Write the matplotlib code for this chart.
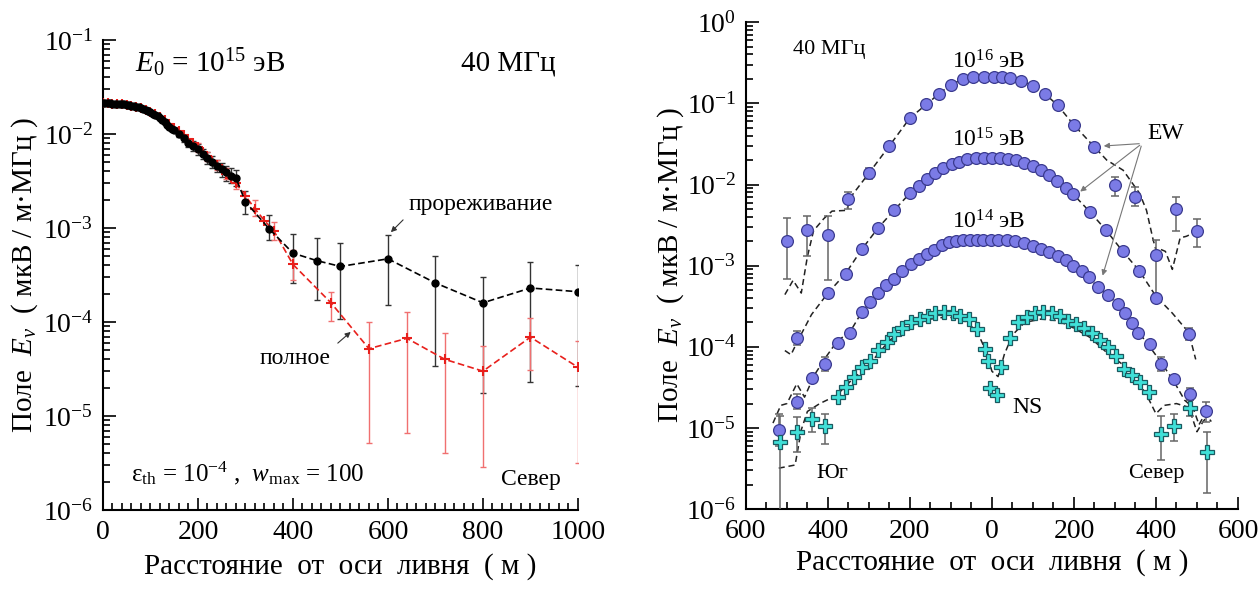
import numpy as np
import matplotlib
matplotlib.use("Agg")
import matplotlib.pyplot as plt
from matplotlib.ticker import MultipleLocator, FuncFormatter, LogLocator, NullFormatter

plt.rcParams['font.family'] = ['Liberation Serif', 'DejaVu Serif']
plt.rcParams['mathtext.fontset'] = 'custom'
plt.rcParams['mathtext.rm'] = 'Liberation Serif'
plt.rcParams['mathtext.it'] = 'Liberation Serif:italic'
plt.rcParams['axes.unicode_minus'] = True

# ---------------- left panel data: E0 = 1e15 eV, north direction
black_x = [0, 5, 10, 15, 20, 25, 30, 35, 40, 45, 50, 55, 60, 65, 70, 75, 80, 85, 90, 95, 100,
           105, 110, 115, 120, 125, 130, 135, 140, 145, 150,
           160, 170, 180, 190, 200, 210, 220, 230, 240, 250, 260, 270, 280,
           300, 350, 400, 450, 500, 600, 700, 800, 900, 1000]
black_y = [0.0212, 0.0212, 0.0212, 0.0212, 0.0211, 0.0211, 0.0210, 0.0209, 0.0208, 0.0207, 0.0205,
           0.0203, 0.0201, 0.0198, 0.0195, 0.0192, 0.0189, 0.0185, 0.0180, 0.0175, 0.0170,
           0.0165, 0.0160, 0.0154, 0.0147, 0.0140, 0.0133, 0.0126, 0.0120, 0.0114, 0.0109,
           0.0100, 0.0090, 0.0081, 0.0075, 0.0069, 0.0062, 0.0056, 0.0050, 0.0046, 0.0042, 0.0039, 0.0036, 0.0034,
           0.0019, 0.00098, 0.00054, 0.00045, 0.00039, 0.00047, 0.00026, 0.00016, 0.00023, 0.00021]
bk_bar_x = [160, 170, 180, 190, 200, 210, 220, 230, 240, 250, 260, 270, 280,
            300, 350, 400, 450, 500, 600, 700, 800, 900, 1000]
bk_bar_lo = [0.0092, 0.0082, 0.0073, 0.0066, 0.0060, 0.0054, 0.0048, 0.0043, 0.0039, 0.0035, 0.0032, 0.0030, 0.0028,
             0.0014, 0.00074, 0.00026, 0.00017, 0.000107, 0.00015, 0.000034, 0.0000175, 0.000023, 0.000021]
bk_bar_hi = [0.0108, 0.0098, 0.0089, 0.0084, 0.0078, 0.0070, 0.0064, 0.0058, 0.0053, 0.0049, 0.0046, 0.0043, 0.0041,
             0.0025, 0.00138, 0.00086, 0.00078, 0.00069, 0.00085, 0.0005, 0.0003, 0.00044, 0.0004]

red_x = [0, 10, 20, 30, 40, 50, 60, 70, 80, 90, 100, 110, 120, 130, 140, 150, 160, 170, 180, 190,
         200, 210, 220, 230, 240, 250, 260, 270, 280,
         300, 320, 340, 360, 400, 480, 560, 640, 720, 800, 900, 1000]
red_y = [0.0212, 0.0212, 0.0211, 0.0210, 0.0208, 0.0205, 0.0201, 0.0196, 0.0190, 0.0182, 0.0172,
         0.0163, 0.0152, 0.0140, 0.0128, 0.0117, 0.0108, 0.0098, 0.0089, 0.0080,
         0.0072, 0.0064, 0.0058, 0.0052, 0.0047, 0.0042, 0.0038, 0.0034, 0.0030,
         0.0022, 0.0016, 0.0012, 0.00093, 0.00041, 0.00016, 0.000052, 0.000067, 0.00004, 0.00003, 0.000069, 0.000033]
rd_bar_x = [200, 220, 240, 260, 280, 320, 360, 400, 480, 560, 640, 720, 800, 900, 1000]
rd_bar_lo = [0.0064, 0.0051, 0.0041, 0.0033, 0.0026, 0.00135, 0.00075, 0.00028, 0.000103,
             0.0000052, 0.0000066, 0.000004, 0.0000029, 0.000031, 0.0000032]
rd_bar_hi = [0.0080, 0.0065, 0.0053, 0.0043, 0.0034, 0.0020, 0.00115, 0.00058, 0.00021,
             0.000099, 0.000127, 0.000077, 0.000056, 0.00011, 0.000063]

# ---------------- right panel data (negative distance = south)
e16_x = [-500, -450, -400, -350, -300, -250, -200, -160, -130, -100, -70, -45, -20, 5, 25, 45, 70,
         100, 130, 160, 200, 250, 300, 350, 400, 450, 500]
e16_y = [2.0e-3, 2.75e-3, 2.4e-3, 6.6e-3, 0.0138, 0.030, 0.066, 0.097, 0.13, 0.17, 0.20, 0.21, 0.21,
         0.21, 0.21, 0.205, 0.19, 0.165, 0.13, 0.095, 0.054, 0.029, 0.0098, 0.0071, 0.00135, 0.005, 0.0027]
e16_bar_x = [-500, -450, -400, -350, -300, 300, 350, 400, 450, 500]
e16_bar_lo = [6.8e-4, 1.3e-3, 6.6e-4, 5e-3, 0.0118, 0.0072, 0.0055, 4.5e-4, 2.7e-3, 1.7e-3]
e16_bar_hi = [3.9e-3, 4.1e-3, 4.1e-3, 8.1e-3, 0.016, 0.0125, 0.0092, 2.1e-3, 7e-3, 3.8e-3]
ew16_x = [-505, -485, -465, -450, -435, -410, -390, -355, -340, -300, -250, -200, -160, -130, -100, -70,
          -40, 0, 40, 70, 100, 130, 160, 200, 250, 280, 320, 360, 377, 393, 401, 410, 423, 440, 459,
          474, 490, 505]
ew16_y = [4.4e-4, 6.6e-4, 4.6e-4, 1.3e-3, 2.7e-3, 3.8e-3, 4.7e-3, 4.8e-3, 7.5e-3, 0.0138, 0.030, 0.066,
          0.097, 0.13, 0.17, 0.20, 0.21, 0.215, 0.21, 0.19, 0.165, 0.13, 0.095, 0.054, 0.029, 0.020,
          0.015, 0.0078, 0.0048, 0.0021, 0.0015, 0.0016, 0.0015, 0.0009, 0.0022, 0.0023, 0.0025, 0.0027]

e15_x = [-475, -400, -357, -317, -278, -239, -200, -178, -159, -139, -120, -98, -80, -60, -40, -20, 0,
         20, 40, 59, 79, 99, 119, 139, 158, 180, 198, 239, 278, 319, 359, 400, 480]
e15_y = [1.28e-4, 4.6e-4, 8.0e-4, 1.6e-3, 2.9e-3, 4.8e-3, 7.8e-3, 9.5e-3, 0.0117, 0.0138, 0.0159,
         0.0178, 0.0190, 0.0204, 0.021, 0.021, 0.021, 0.021, 0.0205, 0.020, 0.0185, 0.017, 0.015,
         0.0131, 0.011, 0.0091, 0.0076, 0.0046, 0.00275, 0.0015, 0.00087, 0.0004, 0.000144]
e15_bar_x = [-475, 480]
e15_bar_lo = [1.05e-4, 1.2e-4]
e15_bar_hi = [1.55e-4, 1.7e-4]
ew15_x = [-505, -490, -475, -440, -400, -357, -317, -278, -239, -200, -159, -120, -80, -40, 0, 40, 79,
          119, 158, 198, 239, 278, 319, 359, 400, 440, 480, 497]
ew15_y = [9e-5, 8e-5, 1.15e-4, 2.5e-4, 4.6e-4, 8e-4, 1.6e-3, 2.9e-3, 4.8e-3, 7.8e-3, 0.0117, 0.0159,
          0.019, 0.021, 0.0215, 0.0205, 0.0185, 0.015, 0.011, 0.0076, 0.0046, 0.00275, 0.0015, 0.00087,
          0.00042, 0.00026, 0.00015, 0.00007]

e14_x = [-520, -476, -440, -408, -376, -347, -317, -298, -278, -258, -239, -219, -198, -178, -159, -141,
         -123, -105, -88, -70, -54, -37, -21, -3, 15, 36, 56, 79, 99, 119, 140, 160, 180, 198, 219, 237,
         258, 283, 307, 325, 341, 356, 385, 412, 443, 482, 521]
e14_y = [9.5e-6, 2.1e-5, 4.1e-5, 6.1e-5, 1.1e-4, 1.5e-4, 2.7e-4, 3.6e-4, 4.6e-4, 5.7e-4, 6.9e-4, 8.7e-4,
         1.05e-3, 1.2e-3, 1.4e-3, 1.58e-3, 1.8e-3, 1.94e-3, 2.0e-3, 2.08e-3, 2.1e-3, 2.1e-3, 2.1e-3,
         2.1e-3, 2.08e-3, 2.05e-3, 2.0e-3, 1.88e-3, 1.75e-3, 1.62e-3, 1.48e-3, 1.32e-3, 1.17e-3, 1.0e-3,
         8.5e-4, 7.3e-4, 5.5e-4, 4.4e-4, 3.4e-4, 2.6e-4, 1.96e-4, 1.48e-4, 1.07e-4, 6.1e-5, 4e-5,
         2.6e-5, 1.6e-5]
e14_bar_x = [-520, -476, -408, 412, 482, 521]
e14_bar_lo = [6e-6, 1.7e-5, 5e-5, 5e-5, 2.2e-5, 1.2e-5]
e14_bar_hi = [1.5e-5, 2.6e-5, 7.5e-5, 7.5e-5, 3.1e-5, 2.1e-5]
ew14_x = [-534, -515, -500, -476, -457, -433, -404, -376, -347, -317, -278, -239, -198, -159, -123, -88,
          -54, -21, 15, 56, 99, 140, 180, 219, 258, 307, 341, 385, 412, 443, 470, 490, 505, 520, 535]
ew14_y = [1.15e-5, 1.9e-5, 2e-5, 3.5e-5, 2.4e-5, 4.5e-5, 7.6e-5, 1.2e-4, 1.5e-4, 2.7e-4, 4.6e-4, 6.9e-4,
          1.05e-3, 1.4e-3, 1.8e-3, 2.0e-3, 2.1e-3, 2.12e-3, 2.1e-3, 2.0e-3, 1.75e-3, 1.48e-3, 1.17e-3,
          8.5e-4, 5.5e-4, 3.4e-4, 1.96e-4, 1.0e-4, 6.5e-5, 3.8e-5, 2.2e-5, 1.8e-5, 1.1e-5, 1.5e-5, 1.2e-5]

ns_x = [-518, -476, -439, -408, -376, -357, -336, -317, -298, -278, -257, -239, -219, -197, -176, -157,
        -138, -118, -96, -77, -57, -36, -18, -9, -4, 12, 22, 44, 63, 85, 104, 124, 146, 167, 185, 204,
        224, 245, 264, 283, 302, 322, 341, 361, 382, 412, 443, 482, 524]
ns_y = [6.8e-6, 9e-6, 1.3e-5, 1.07e-5, 2.4e-5, 3.2e-5, 4.3e-5, 5.6e-5, 6.6e-5, 9.1e-5, 1.16e-4, 1.44e-4,
        1.7e-4, 2.03e-4, 2.2e-4, 2.4e-4, 2.6e-4, 2.7e-4, 2.6e-4, 2.4e-4, 2.2e-4, 1.65e-4, 9.4e-5, 6.6e-5,
        3.1e-5, 2.55e-5, 5.7e-5, 1.3e-4, 2e-4, 2.35e-4, 2.6e-4, 2.7e-4, 2.6e-4, 2.4e-4, 2.1e-4, 1.9e-4,
        1.7e-4, 1.47e-4, 1.2e-4, 1e-4, 7.7e-5, 5.4e-5, 4.5e-5, 3.7e-5, 2.8e-5, 8.5e-6, 1.05e-5, 1.78e-5,
        5.1e-6]
ns_bar_x = [-518, -476, -439, -408, 412, 443, 482, 524]
ns_bar_lo = [1e-7, 5e-6, 9e-6, 6.4e-6, 4e-6, 7e-6, 1.4e-5, 1.6e-6]
ns_bar_hi = [1.4e-5, 1.35e-5, 1.75e-5, 1.5e-5, 1.4e-5, 1.5e-5, 2.2e-5, 8.9e-6]
nsl_x = [-520, -480, -465, -450, -420, -380, -340, -300, -250, -200, -150, -120, -90, -60, -35, -15, 0,
         15, 30, 50, 80, 120, 160, 200, 240, 280, 320, 360, 380, 400, 420, 450, 480, 500, 515, 530]
nsl_y = [3.2e-6, 3.5e-6, 9.5e-6, 1.6e-5, 2e-5, 2.5e-5, 4e-5, 6e-5, 1.2e-4, 1.8e-4, 2.2e-4, 2.3e-4, 2.3e-4,
         2e-4, 1.5e-4, 9e-5, 5e-5, 4.3e-5, 8e-5, 1.4e-4, 2e-4, 2.2e-4, 2.1e-4, 1.7e-4, 1.3e-4, 8.5e-5,
         6e-5, 3.5e-5, 2.4e-5, 1.5e-5, 1.9e-5, 2e-5, 1.8e-5, 9e-6, 1.2e-5, 1.5e-5]


def bars(ax, x, lo, hi, color, lw=1.0, cap=6, z=2):
    ax.vlines(x, lo, hi, colors=color, lw=lw, zorder=z)
    ax.plot(x, lo, ls='none', marker='_', ms=cap, mew=lw, color=color, zorder=z)
    ax.plot(x, hi, ls='none', marker='_', ms=cap, mew=lw, color=color, zorder=z)


def style_axes(ax):
    for s in ['top', 'right']:
        ax.spines[s].set_visible(False)
    for s in ['left', 'bottom']:
        ax.spines[s].set_linewidth(1.5)
    ax.set_yscale('log')
    ax.yaxis.set_major_locator(LogLocator(base=10, numticks=20))
    ax.yaxis.set_minor_locator(LogLocator(base=10, subs=np.arange(2, 10), numticks=20))
    ax.yaxis.set_minor_formatter(NullFormatter())
    ax.tick_params(which='both', direction='in', top=False, right=False, width=1.2)
    ax.tick_params(which='major', length=9, labelsize=20, pad=7)
    ax.tick_params(which='minor', length=5)


fig = plt.figure(figsize=(12.6, 5.9), dpi=100)
ax1 = fig.add_axes([0.0817, 0.1356, 0.377, 0.7966])
ax2 = fig.add_axes([0.592, 0.137, 0.3905, 0.8254])

# ---------------- left panel
style_axes(ax1)
bars(ax1, bk_bar_x, bk_bar_lo, bk_bar_hi, '#333333', lw=1.0, cap=5)
bars(ax1, rd_bar_x, rd_bar_lo, rd_bar_hi, '#f07070', lw=1.0, cap=5)
ax1.plot(red_x, red_y, ls=(0, (4, 2)), color='#e8201c', lw=1.2, marker='+', ms=7, mew=1.5, zorder=3)
ax1.plot(black_x, black_y, ls=(0, (4, 2)), color='black', lw=1.2, marker='o', ms=5, zorder=4)
ax1.set_xlim(0, 1000)
ax1.set_ylim(1e-6, 1e-1)
ax1.xaxis.set_major_locator(MultipleLocator(200))
ax1.xaxis.set_minor_locator(MultipleLocator(20))
ax1.set_xlabel('Расстояние  от  оси  ливня  ( м )', fontsize=21, labelpad=6)
ax1.set_ylabel('Поле  $E_\\nu$  ( мкВ / м·МГц )', fontsize=21, labelpad=2)

ax1.text(0.067, 0.951, '$E_0$ = 10$^{15}$ эВ', transform=ax1.transAxes, fontsize=21, va='center')
ax1.text(0.954, 0.951, '40 МГц', transform=ax1.transAxes, fontsize=21, va='center', ha='right')
ax1.text(0.644, 0.649, 'прореживание', transform=ax1.transAxes, fontsize=17, va='center')
ax1.text(0.404, 0.323, 'полное', transform=ax1.transAxes, fontsize=17, va='center', ha='center')
ax1.text(0.059, 0.079, 'ε$_{\\rm th}$ = 10$^{-4}$ ,  $w_{\\rm max}$ = 100', transform=ax1.transAxes,
         fontsize=18, va='center')
ax1.text(0.964, 0.064, 'Север', transform=ax1.transAxes, fontsize=17, va='center', ha='right')
arrow = dict(arrowstyle='-|>', color='#333333', lw=0.8, mutation_scale=8)
ax1.annotate('', xy=(602, 8.6e-4), xytext=(636, 1.28e-3), arrowprops=arrow)
ax1.annotate('', xy=(526, 8.2e-5), xytext=(490, 5.7e-5), arrowprops=arrow)

# ---------------- right panel
style_axes(ax2)
ax2.set_xlim(-600, 600)
ax2.set_ylim(1e-6, 1e0)
ax2.xaxis.set_major_locator(MultipleLocator(200))
ax2.xaxis.set_minor_locator(MultipleLocator(50))
ax2.xaxis.set_major_formatter(FuncFormatter(lambda v, p: f'{abs(v):.0f}'))
ax2.set_xlabel('Расстояние  от  оси  ливня  ( м )', fontsize=21, labelpad=4)
ax2.set_ylabel('Поле  $E_\\nu$  ( мкВ / м·МГц )', fontsize=21, labelpad=0)

dash = (0, (4, 2.5))
for lx, ly in [(ew16_x, ew16_y), (ew15_x, ew15_y), (ew14_x, ew14_y), (nsl_x, nsl_y)]:
    ax2.plot(lx, ly, ls=dash, color='#222222', lw=1.1, zorder=2)

grey = '#666666'
bars(ax2, e16_bar_x, e16_bar_lo, e16_bar_hi, grey, lw=1.1, cap=6, z=3)
bars(ax2, e15_bar_x, e15_bar_lo, e15_bar_hi, grey, lw=1.1, cap=6, z=3)
bars(ax2, e14_bar_x, e14_bar_lo, e14_bar_hi, grey, lw=1.1, cap=6, z=3)
bars(ax2, ns_bar_x, ns_bar_lo, ns_bar_hi, grey, lw=1.1, cap=6, z=3)

circ = dict(ls='none', marker='o', ms=8.5, mfc='#7b7be6', mec='#3b3b8f', mew=0.9, zorder=4)
ax2.plot(e16_x, e16_y, **circ)
ax2.plot(e15_x, e15_y, **circ)
ax2.plot(e14_x, e14_y, **circ)
ax2.plot(ns_x, ns_y, ls='none', marker='P', ms=10, mfc='#40e0d8', mec='#1b5a60', mew=0.9, zorder=5)

ax2.text(0.096, 0.943, '40 МГц', transform=ax2.transAxes, fontsize=16, va='center')
ax2.text(0.494, 0.918, '10$^{16}$ эВ', transform=ax2.transAxes, fontsize=17, va='center', ha='center')
ax2.text(0.494, 0.758, '10$^{15}$ эВ', transform=ax2.transAxes, fontsize=17, va='center', ha='center')
ax2.text(0.494, 0.589, '10$^{14}$ эВ', transform=ax2.transAxes, fontsize=17, va='center', ha='center')
ax2.text(0.815, 0.772, 'EW', transform=ax2.transAxes, fontsize=17, va='center')
ax2.text(0.573, 0.209, 'NS', transform=ax2.transAxes, fontsize=17, va='center', ha='center')
ax2.text(0.175, 0.074, 'Юг', transform=ax2.transAxes, fontsize=16, va='center', ha='center')
ax2.text(0.835, 0.074, 'Север', transform=ax2.transAxes, fontsize=16, va='center', ha='center')

arrow2 = dict(arrowstyle='-|>', color='#777777', lw=0.8, mutation_scale=8)
for hx, hy in [(266, 0.0297), (210, 7.8e-3), (268, 7.0e-4)]:
    ax2.annotate('', xy=(hx, hy), xytext=(366, 0.032), arrowprops=arrow2)

fig.savefig('out.png', dpi=100)
